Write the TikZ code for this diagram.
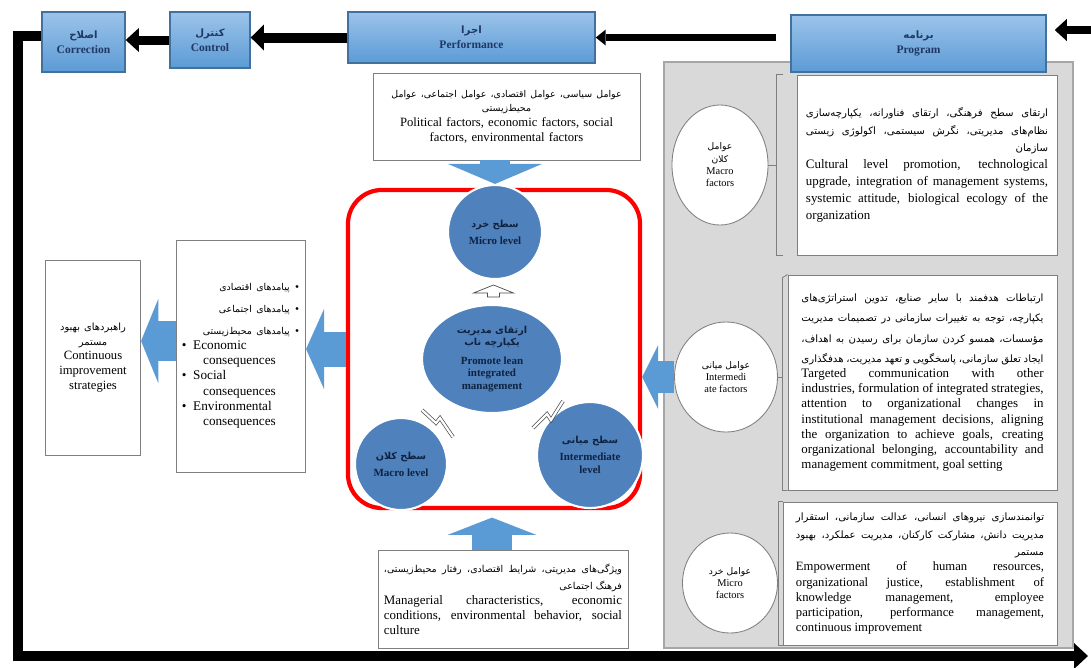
\documentclass[tikz,border=0pt]{standalone}
\usepackage{fontspec}
\setmainfont{Liberation Serif}
\newfontfamily\fa[Script=Arabic,Scale=0.88]{DejaVu Sans}
\TeXXeTstate=1
\usetikzlibrary{arrows.meta, calc, positioning, shapes.geometric}
\setlength{\parindent}{0pt}
\hyphenpenalty=10000
\exhyphenpenalty=10000
\tolerance=9000
\definecolor{Navy}  {HTML}{1F3864}
\definecolor{BoxM}  {HTML}{5B9BD5}
\definecolor{BoxL}  {HTML}{9CC3EA}
\definecolor{BoxD}  {HTML}{41719C}
\definecolor{CirF}  {HTML}{4F81BD}
\definecolor{Deep}  {HTML}{10223F}
\definecolor{ArrB}  {HTML}{5B9BD5}
\definecolor{PanF}  {HTML}{D9D9D9}
\definecolor{PanD}  {HTML}{A6A6A6}
\definecolor{LGray} {HTML}{7F7F7F}
\newcommand{\faline}[1]{{\fa\beginR #1\endR}}
\newcommand{\fapar}[1]{{\fa\parfillskip=0pt\beginR #1\hfill\endR\par}}
\tikzset{
  hdr/.style={
    rectangle, draw=BoxD, line width=1pt,
    top color=BoxL, bottom color=BoxM,
    text=Navy, font=\fontsize{8.2}{10.5}\selectfont\bfseries,
    align=center, inner sep=1pt,
  },
  tbox/.style={
    rectangle, draw=LGray, fill=white, line width=0.6pt,
    inner sep=4pt,
  },
  descbox/.style={
    tbox, text width=6.05cm, align=justify,
    font=\fontsize{9.2}{10.8}\selectfont,
  },
  lvl/.style={
    circle, fill=CirF, draw=white, line width=1.5pt,
    text=Deep, font=\fontsize{7.8}{9}\selectfont\bfseries,
    align=center, inner sep=0pt,
  },
  fac/.style={
    ellipse, draw=LGray, fill=white, line width=0.6pt,
    font=\fontsize{7.4}{8.8}\selectfont, align=center, inner sep=0pt,
  },
  barr/.style args={#1/#2/#3}{
    draw=ArrB, line width=#1,
    -{Triangle[length=#2,width=#3,line width=0pt]},
  },
  karr/.style args={#1/#2/#3}{
    draw=black, line width=#1,
    -{Triangle[length=#2,width=#3,line width=0pt]},
  },
  brk/.style={draw=LGray, line width=0.6pt},
  bolt/.style={
    draw=black!70, double=white, double distance=1.6pt,
    line width=0.5pt, line join=miter,
  },
}
\begin{document}
\begin{tikzpicture}[x=0.025cm,y=-0.025cm]
  \useasboundingbox[fill=white] (0,0) rectangle (1091,667);
  % program panel
  \draw[draw=PanD, fill=PanF, line width=0.8pt] (664,62) rectangle (1073,648);

  % top row
  \node[hdr, minimum width=2.075cm, minimum height=1.5cm]   (corr) at (83.5,42)    {\faline{اصلاح}\\Correction};
  \node[hdr, minimum width=2.0cm,   minimum height=1.4cm]   (ctrl) at (210,40)     {\faline{کنترل}\\Control};
  \node[hdr, minimum width=6.175cm, minimum height=1.275cm] (perf) at (471.5,37.5) {\faline{اجرا}\\Performance};
  \node[hdr, minimum width=6.375cm, minimum height=1.425cm] (prog) at (918.5,43.5) {\faline{برنامه}\\Program};

  % program factors
  \node[fac, minimum width=2.4cm,   minimum height=3cm]    (macf) at (720,165) {\faline{عوامل}\\\faline{کلان}\\Macro\\factors};
  \node[fac, minimum width=2.575cm, minimum height=2.75cm] (midf) at (726,377) {\faline{عوامل میانی}\\Intermedi\\ate factors};
  \node[fac, minimum width=2.375cm, minimum height=2.5cm]  (micf) at (730,583) {\faline{عوامل خرد}\\Micro\\factors};

  \node[descbox, minimum width=6.5cm, minimum height=4.5cm] (mact) at (927,165) {
    {\fontsize{8.2}{12.5}\selectfont\fapar{ارتقای سطح فرهنگی، ارتقای فناورانه، یکپارچه‌سازی نظام‌های مدیریتی، نگرش سیستمی، اکولوژی زیستی سازمان}}
    \baselineskip=12pt
    Cultural level promotion, technological upgrade, integration of management systems, systemic attitude, biological ecology of the organization\par};
  \node[descbox, minimum width=6.725cm, minimum height=5.375cm] (midt) at (922.5,382.5) {
    {\fontsize{8.2}{14.5}\selectfont\fapar{ارتباطات هدفمند با سایر صنایع، تدوین استراتژی‌های یکپارچه، توجه به تغییرات سازمانی در تصمیمات مدیریت مؤسسات، همسو کردن سازمان برای رسیدن به اهداف، ایجاد تعلق سازمانی، پاسخگویی و تعهد مدیریت، هدفگذاری}}
    Targeted communication with other\linebreak industries, formulation of integrated strategies, attention to organizational changes in institutional management decisions, aligning the organization to achieve goals, creating organizational belonging, accountability and management commitment, goal setting};
  \node[descbox, text width=6.2cm, minimum width=6.85cm, minimum height=3.575cm, font=\fontsize{9}{10.8}\selectfont] (mict) at (920,573.5) {
    {\fontsize{8.2}{12.5}\selectfont\fapar{توانمندسازی نیروهای انسانی، عدالت سازمانی، استقرار مدیریت دانش، مشارکت کارکنان، مدیریت عملکرد، بهبود مستمر}}
    Empowerment of human resources,\linebreak organizational justice, establishment of\linebreak knowledge management, employee\linebreak participation, performance management,\linebreak continuous improvement};

  % brackets
  \draw[brk] ($(mact.north west)+(-14,0)$) -- ($(mact.north west)+(-20,0)$) |- ($(mact.south west)+(-14,0)$);
  \draw[brk] ($(midt.north west)+(0,0)$) -- ($(midt.north west)+(-5,3)$) |- ($(midt.south west)+(0,0)$);
  \draw[brk] ($(mict.north west)+(0,0)$) -- ($(mict.north west)+(-4,0)$) |- ($(mict.south west)+(0,0)$);
  \draw[brk] (macf.east) -- ($(macf.east -| mact.west)+(-20,0)$);
  \draw[brk] (midf.east) -- ($(midf.east -| midt.west)+(-5,0)$);
  \draw[brk] (micf.east) -- ($(micf.east -| mict.west)+(-4,0)$);

  % centre
  \node[draw=red, line width=3pt, rounded corners=0.85cm, minimum width=7.3cm, minimum height=7.95cm] (frame) at (494,349) {};
  \node[tbox, minimum width=6.675cm, minimum height=2.175cm, text width=6.3cm, align=center, font=\fontsize{9}{10.4}\selectfont] (pol) at (506.5,116.5) {
    {\fontsize{7.6}{12}\selectfont\faline{عوامل سیاسی، عوامل اقتصادی، عوامل اجتماعی، عوامل}\\\faline{محیط‌زیستی}}\\
    Political factors, economic factors, social\\factors, environmental factors};
  \node[tbox, minimum width=6.25cm, minimum height=2.45cm, text width=5.95cm, align=justify, font=\fontsize{9.2}{10.6}\selectfont] (mgr) at (503,599) {
    {\fontsize{7.7}{12.5}\selectfont\fapar{ویژگی‌های مدیریتی، شرایط اقتصادی، رفتار محیط‌زیستی، فرهنگ اجتماعی}}
    Managerial characteristics, economic conditions, environmental behavior, social culture};

  \node[lvl, minimum size=2.35cm] (micro) at (495,232) {\faline{سطح خرد}\\[3pt]Micro level};
  \node[lvl, ellipse, minimum width=3.5cm, minimum height=2.7cm] (core) at (492,359)
    {\faline{ارتقای مدیریت}\\\faline{یکپارچه ناب}\\[4pt]Promote lean\\integrated\\management};
  \node[lvl, minimum size=2.3cm]  (macro) at (401,464) {\faline{سطح کلان}\\[3pt]Macro level};
  \node[lvl, minimum size=2.65cm] (inter) at (590,455) {\faline{سطح میانی}\\[3pt]Intermediate\\level};

  % left side
  \node[tbox, minimum width=3.2cm, minimum height=5.8cm, text width=2.95cm, align=left, font=\fontsize{9.4}{10.8}\selectfont] (cons) at (241,356) {
    {\raggedleft\fontsize{7.6}{15.5}\selectfont
     \faline{\textbullet\enspace پیامدهای اقتصادی}\\
     \faline{\textbullet\enspace پیامدهای اجتماعی}\\
     \faline{\textbullet\enspace پیامدهای محیط‌زیستی}\par}
    \textbullet\enspace Economic\\\hspace*{1.6em}consequences\\
    \textbullet\enspace Social\\\hspace*{1.6em}consequences\\
    \textbullet\enspace Environmental\\\hspace*{1.6em}consequences};
  \node[tbox, minimum width=2.35cm, minimum height=4.875cm, text width=2.1cm, align=center, font=\fontsize{9}{10.4}\selectfont] (strat) at (93,357.5) {
    {\fontsize{8}{12}\selectfont\faline{راهبردهای بهبود}\\\faline{مستمر}}\\
    Continuous\\improvement\\strategies};

  % block arrows
  \draw[barr=0.75cm/0.5cm/2.35cm] (micro.north |- pol.south) -- (micro.north);
  \draw[barr=1cm/0.43cm/2.2cm] (core.south |- mgr.north) -- ++(0,-32);
  \draw[barr=0.8cm/0.4cm/1.6cm] (midf.west) -- (midf.west -| frame.east);
  \draw[barr=0.875cm/0.45cm/2cm] (frame.west) -- (frame.west -| cons.east);
  \draw[barr=1cm/0.43cm/2.1cm] ($(cons.west)+(0,-15)$) -- ($(cons.west -| strat.east)+(0,-15)$);

  % hollow arrows
  \coordinate (ua) at ($(core.north)!0.5!(micro.south)$);
  \draw[draw=black!70, fill=white, line width=0.5pt] ($(ua)+(-6,5)$) -- ++(0,-4) -- ++(-14,0)
    -- ($(ua)+(0,-7)$) -- ($(ua)+(20,1)$) -- ++(-14,0) -- ++(0,4) -- cycle;
  \draw[bolt] ($(core)+(-70,51)$) -- ++(14,13) -- ++(4,-5) -- ++(13,19);
  \draw[bolt] ($(core)+(41,69)$) -- ++(14,-14) -- ++(4,6) -- ++(12,-19);

  % black loop
  \draw[karr=0.225cm/0.33cm/0.6cm] (ctrl.west) -- (ctrl.west -| corr.east);
  \draw[karr=0.25cm/0.33cm/0.65cm] (perf.west) -- (perf.west -| ctrl.east);
  \draw[karr=0.18cm/0.25cm/0.4cm] ($(prog.west)+(-14,-6)$) -- ($(prog.west -| perf.east)+(0,-6)$);
  \coordinate (rin) at (1091,30);
  \draw[karr=0.2cm/0.3cm/0.55cm] (rin) -- ($(rin -| prog.east)+(8,0)$);
  \coordinate (lb) at (18,656);
  \coordinate (rb) at (1088,656);
  \draw[karr=0.25cm/0.35cm/0.65cm, line join=miter] ($(corr.west)+(0,-6)$) -| (lb) -- (rb);
\end{tikzpicture}
\end{document}
